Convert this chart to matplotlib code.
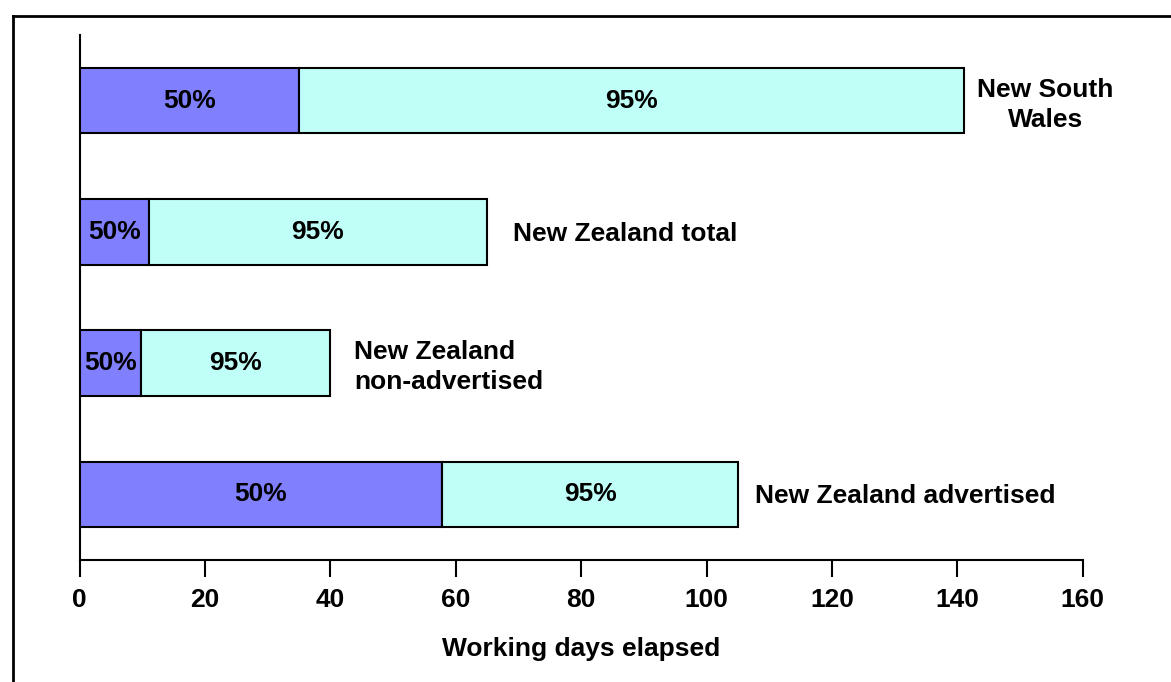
import matplotlib
matplotlib.use("Agg")
import matplotlib.pyplot as plt
from matplotlib.lines import Line2D

plt.rcParams['font.family'] = ['Liberation Sans', 'DejaVu Sans']
plt.rcParams['font.weight'] = 'bold'

# Series (bottom to top)
categories = ["New Zealand advertised", "New Zealand\nnon-advertised",
              "New Zealand total", "New South\nWales"]
days_50 = [57.8, 9.8, 11.1, 35.0]     # working days to 50% completion
days_95 = [105.0, 40.0, 64.9, 141.0]  # working days to 95% completion
segment_labels = ["50%", "95%"]
xticks = [0, 20, 40, 60, 80, 100, 120, 140, 160]

# Label placement styles (offsets in points from the bar end)
label_dx = [12, 17, 19, 10]
label_dy = [-1, -3, -1.5, -3]
label_align = ["left", "left", "left", "center"]

color_50 = "#8080FF"
color_95 = "#BFFFF8"
FS = 19

fig = plt.figure(figsize=(11.71, 6.82), dpi=100)
ax = fig.add_axes([0.0681, 0.1789, 0.8565, 0.7698])

ypos = list(range(len(categories)))
width_95 = [b - a for a, b in zip(days_50, days_95)]

ax.barh(ypos, days_50, height=0.5, color=color_50,
        edgecolor="black", linewidth=1.5, zorder=3)
ax.barh(ypos, width_95, left=days_50, height=0.5, color=color_95,
        edgecolor="black", linewidth=1.5, zorder=3)

for y, a, w in zip(ypos, days_50, width_95):
    ax.text(a / 2, y, segment_labels[0], ha="center", va="center",
            fontsize=FS, fontweight="bold", zorder=4)
    ax.text(a + w / 2, y, segment_labels[1], ha="center", va="center",
            fontsize=FS, fontweight="bold", zorder=4)

for y, end, name, dx, dy, al in zip(ypos, days_95, categories,
                                    label_dx, label_dy, label_align):
    ax.annotate(name, xy=(end, y), xytext=(dx, dy),
                textcoords="offset points", ha="left", va="center",
                multialignment=al, fontsize=FS, fontweight="bold",
                linespacing=1.33)

ax.set_xlim(0, 160)
ax.set_ylim(-0.5, 3.5)
ax.set_xticks(xticks)
ax.set_xticklabels([str(t) for t in xticks], fontsize=FS, fontweight="bold")
ax.set_yticks([])
ax.tick_params(axis="x", direction="out", length=12, width=1.5, pad=8)
for side in ("top", "right"):
    ax.spines[side].set_visible(False)
for side in ("left", "bottom"):
    ax.spines[side].set_linewidth(1.5)
ax.set_xlabel("Working days elapsed", fontsize=FS, fontweight="bold",
              labelpad=18)

# Outer frame lines along the top and left
fig.add_artist(Line2D([13 / 1171, 1.0], [1 - 16 / 682, 1 - 16 / 682],
                      transform=fig.transFigure, color="black", linewidth=2))
fig.add_artist(Line2D([13 / 1171, 13 / 1171], [0.0, 1 - 16 / 682],
                      transform=fig.transFigure, color="black", linewidth=2))

fig.savefig("out.png", dpi=100)
